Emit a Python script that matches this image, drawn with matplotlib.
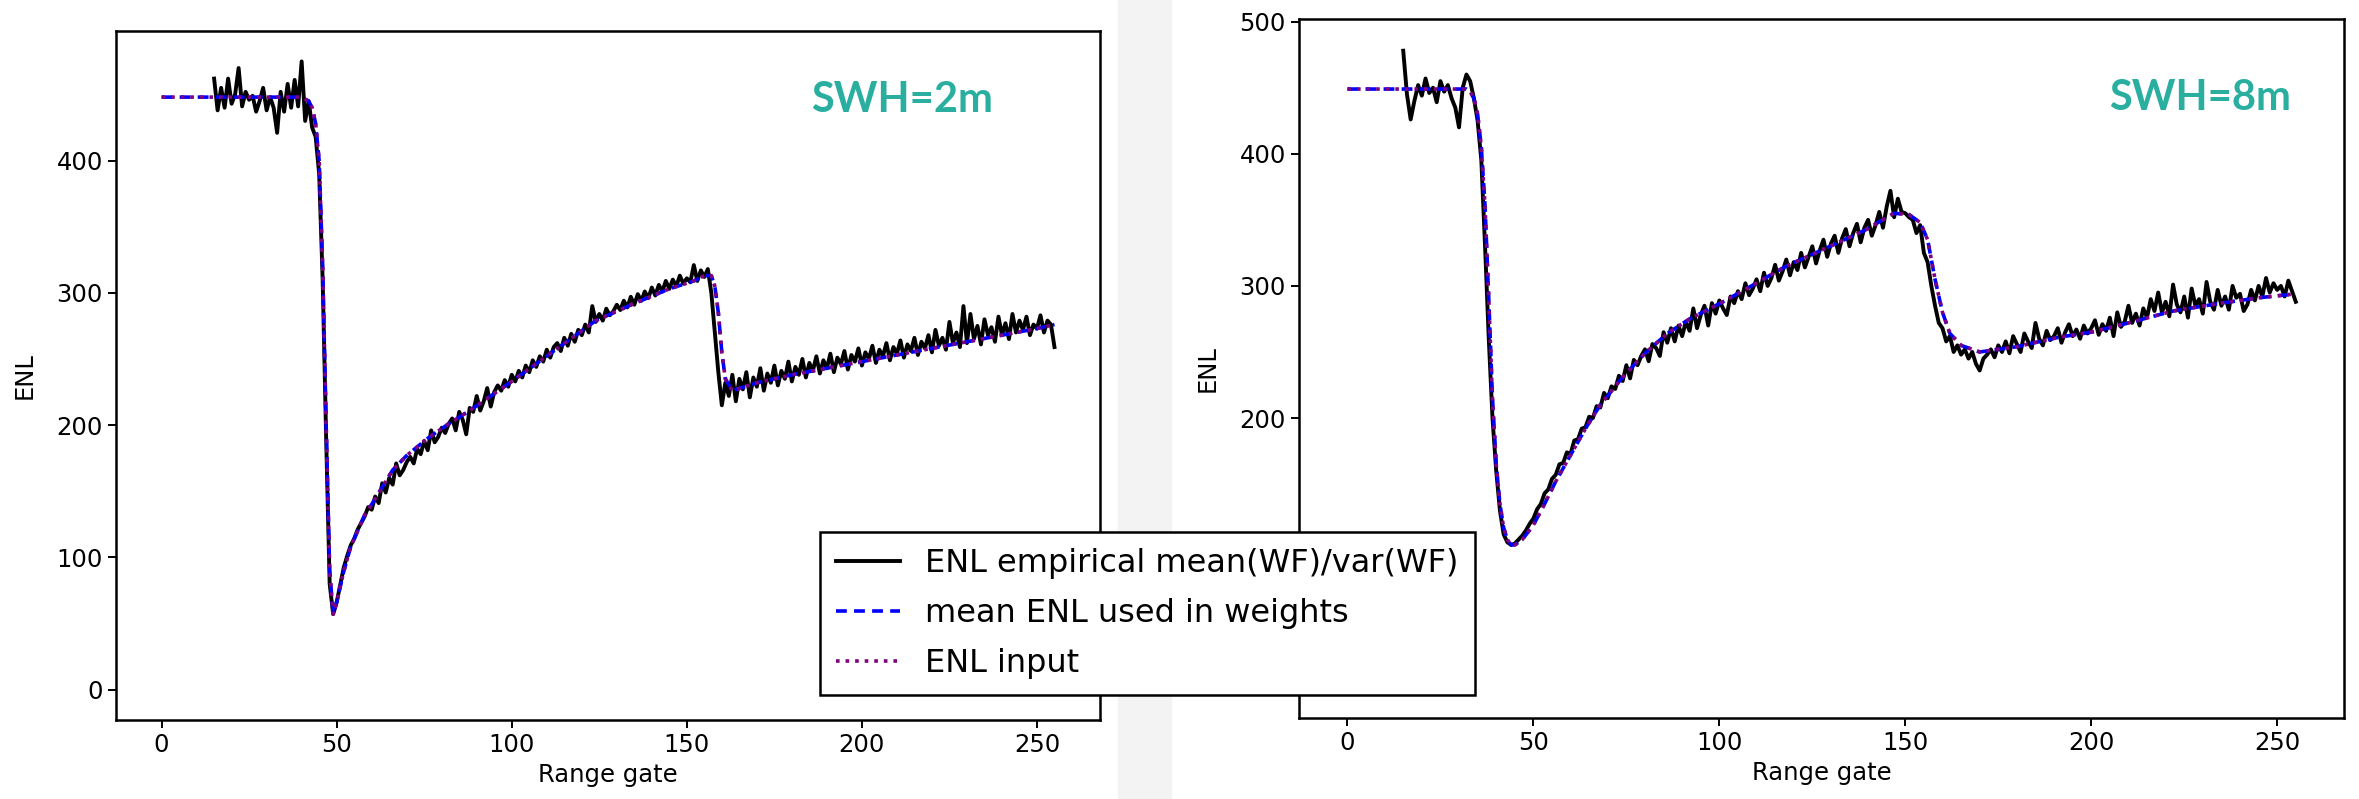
import numpy as np
import matplotlib.pyplot as plt
from matplotlib.patches import Rectangle

# --- SWH = 2m panel ---
gates_emp = list(range(15, 256))
enl_emp_2m = [
    462, 438, 455, 440, 462, 443, 450, 470, 441, 452, 446, 449, 437, 445, 455,
    438, 448, 440, 421, 452, 437, 458, 440, 461, 441, 475, 430, 445, 425,
    418, 390, 310, 190, 80, 57,
    66, 79, 92, 101, 109, 114, 121, 126, 131, 138,
    136, 146, 141, 156, 149, 160, 155, 171, 162, 166,
    172, 176, 171, 182, 178, 188, 181, 196, 187, 191,
    198, 194, 201, 205, 196, 210, 204, 193, 213, 210,
    222, 211, 218, 228, 214, 225, 230, 226, 234, 229,
    238, 233, 241, 236, 245, 240, 249, 244, 252, 248,
    257, 251, 259, 262, 256, 266, 260, 269, 263, 272,
    268, 276, 270, 290, 278, 284, 279, 288, 283, 286,
    291, 287, 294, 289, 297, 291, 299, 294, 301, 296,
    304, 298, 306, 301, 309, 303, 310, 305, 313, 307,
    311, 308, 321, 309, 317, 312, 318, 300, 270, 240,
    215, 232, 222, 238, 218, 235, 227, 240, 221, 236,
    229, 243, 226, 239, 232, 245, 230, 241, 235, 248,
    233, 244, 238, 250, 236, 247, 241, 252, 239, 249,
    243, 254, 240, 251, 246, 256, 242, 253, 248, 258,
    245, 255, 250, 260, 247, 257, 252, 262, 249, 259,
    254, 264, 251, 261, 256, 266, 253, 263, 258, 268,
    255, 272, 260, 266, 257, 278, 262, 270, 259, 290,
    262, 284, 265, 275, 261, 280, 268, 274, 263, 282,
    268, 277, 265, 284, 270, 279, 272, 282, 268, 276,
    273, 283, 270, 279, 276, 259,
]
gates_mean_2m = [0, 40, 42, 43, 44, 45, 46, 47, 48, 49, 50, 52, 54, 56, 58, 60, 63, 66,
                 70, 76, 82, 88, 94, 100, 112, 124, 135, 145, 152, 155, 157, 158, 159,
                 160, 161, 163, 170, 180, 190, 200, 210, 220, 230, 240, 250, 255]
enl_mean_2m = [448, 448, 445, 440, 428, 400, 320, 200, 90, 57, 66, 89, 108, 120, 132, 140,
               153, 166, 177, 190, 201, 211, 222, 233, 256, 279, 292, 303, 309, 313, 313,
               305, 285, 255, 235, 226, 232, 238, 243, 248, 253, 258, 263, 268, 273, 276]

# --- SWH = 8m panel ---
enl_emp_8m = [
    478, 445, 426, 440, 452, 444, 457, 446, 450, 439, 455, 447, 452, 442, 435,
    420, 450, 460, 455,
    442, 425, 395, 330, 260, 200, 160, 130, 112, 106,
    104, 105, 108, 111, 115, 120,
    124, 131, 135, 143, 146, 154, 157, 165, 166, 174,
    173, 183, 184, 192, 193, 201, 200, 209, 208, 219,
    215, 224, 222, 232, 228, 240, 230, 244, 240, 247,
    252, 243, 256, 253, 247, 265, 257, 268, 258, 270,
    262, 273, 266, 283, 268, 278, 285, 270, 287, 279,
    289, 283, 278, 292, 287, 296, 290, 302, 293, 298,
    305, 296, 310, 300, 306, 316, 304, 311, 320, 308,
    318, 312, 325, 314, 322, 330, 317, 327, 335, 322,
    332, 338, 325, 336, 343, 330, 340, 347, 333, 344,
    350, 338, 346, 356, 344, 360, 372, 352, 366, 356,
    355, 352, 350, 340, 346, 325, 318, 300, 285, 272,
    268, 258, 262, 250, 255, 248, 252, 245, 250, 241,
    236, 245, 248, 252, 246, 255, 250, 258, 249, 262,
    256, 250, 264, 258, 253, 272, 260, 255, 266, 259,
    262, 268, 257, 265, 271, 262, 267, 260, 270, 264,
    268, 274, 263, 271, 266, 276, 262, 280, 269, 273,
    285, 272, 279, 270, 283, 276, 290, 281, 295, 280,
    288, 277, 301, 286, 280, 292, 276, 298, 285, 290,
    279, 303, 288, 282, 297, 285, 292, 282, 300, 291,
    294, 281, 286, 297, 289, 300, 292, 306, 295, 302,
    297, 300, 292, 304, 296, 288,
]
gates_mean_8m = [0, 32, 33, 34, 35, 36, 37, 38, 39, 40, 41, 42, 43, 44, 45, 47, 50, 53, 56,
                 60, 64, 68, 74, 80, 86, 92, 101, 108, 118, 129, 139, 147, 151, 154, 156,
                 158, 160, 162, 165, 170, 180, 191, 200, 210, 222, 235, 245, 255]
enl_mean_8m = [449, 449, 447, 442, 430, 405, 360, 290, 215, 165, 135, 117, 108, 104, 104,
               108, 119, 135, 152, 172, 192, 210, 231, 249, 264, 275, 288, 299, 315, 329,
               342, 355, 354, 348, 335, 305, 280, 264, 255, 250, 254, 261, 265, 272, 281,
               287, 291, 294]

panels = [
    ("SWH=2m", enl_emp_2m, gates_mean_2m, enl_mean_2m, (-23, 498)),
    ("SWH=8m", enl_emp_8m, gates_mean_8m, enl_mean_8m, (-27, 502)),
]

fig = plt.figure(figsize=(23.59, 7.99), dpi=100)
# light grey gap between the two pasted screenshots
fig.patches.append(Rectangle((1118 / 2359, 0), 53 / 2359, 1, transform=fig.transFigure,
                             color='#f3f3f3', zorder=0))

positions = [[0.0492, 0.0989, 0.4171, 0.8623], [0.5507, 0.1014, 0.4430, 0.8748]]
text_pos = [(0.344, 0.875), (0.894, 0.877)]

for i, (title, emp, g_mean, mean, ylim) in enumerate(panels):
    ax = fig.add_axes(positions[i])
    l1, = ax.plot(gates_emp, emp, color='black', lw=2.8,
                  label='ENL empirical mean(WF)/var(WF)')
    l2, = ax.plot(g_mean, mean, color='blue', ls='--', lw=2.6, dashes=(3, 2),
                  label='mean ENL used in weights')
    l3, = ax.plot(g_mean, mean, color='purple', ls=':', lw=2.6,
                  label='ENL input')
    ax.set_xlim(-13, 268)
    ax.set_ylim(*ylim)
    ax.set_xticks([0, 50, 100, 150, 200, 250])
    if i == 0:
        ax.set_yticks([0, 100, 200, 300, 400])
    else:
        # 0 and 100 labels sit under the legend in the original
        ax.set_yticks([0, 100, 200, 300, 400, 500], ['', '', '200', '300', '400', '500'])
    ax.tick_params(labelsize=17.5, length=6, width=1.4)
    for s in ax.spines.values():
        s.set_linewidth(1.8)
    ax.set_xlabel('Range gate', fontsize=17.5)
    ax.set_ylabel('ENL', fontsize=17.5, labelpad=14)
    fig.text(*text_pos[i], title, color='#2aae9f', fontsize=30, fontweight='bold',
             family='Lato', ha='left', va='center')

leg = fig.legend(handles=[l1, l2, l3], loc='lower left', bbox_to_anchor=(0.3476, 0.130),
                 borderaxespad=0, fontsize=23, fancybox=False, edgecolor='black',
                 framealpha=1, handlelength=2.0, borderpad=0.5, labelspacing=0.6)
leg.get_frame().set_linewidth(1.8)

fig.savefig('out.png', dpi=100)
